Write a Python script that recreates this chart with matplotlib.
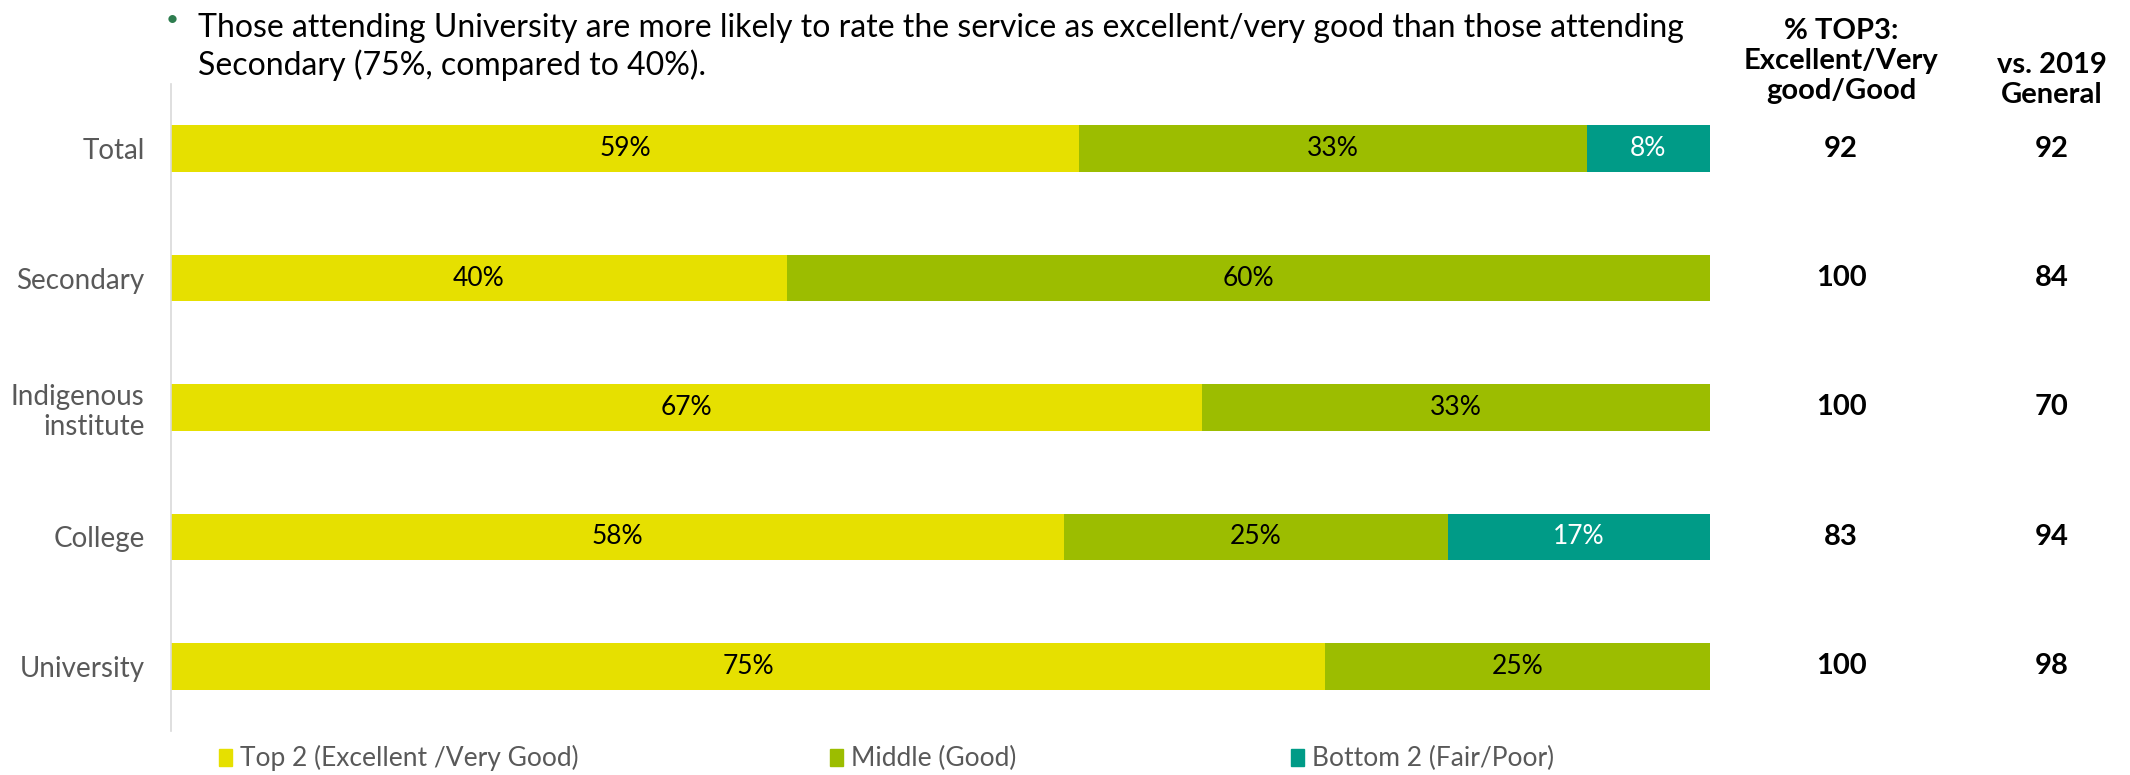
import numpy as np
import matplotlib
matplotlib.use('Agg')
import matplotlib.pyplot as plt
from matplotlib.patches import Rectangle

plt.rcParams['font.family'] = ['Lato', 'DejaVu Sans']

# 各学校类型的评分分布（%）
categories = ['Total', 'Secondary', 'Indigenous\ninstitute', 'College', 'University']
top2 = [59, 40, 67, 58, 75]
middle = [33, 60, 33, 25, 25]
bottom2 = [8, 0, 0, 17, 0]
top3_scores = [92, 100, 100, 83, 100]
general_2019 = [92, 84, 70, 94, 98]

series_names = ['Top 2 (Excellent /Very Good)', 'Middle (Good)', 'Bottom 2 (Fair/Poor)']
colors = ['#E6E000', '#9CBD00', '#009B87']
label_colors = ['black', 'black', 'white']

fig = plt.figure(figsize=(21.3, 7.75), dpi=100)
ax = fig.add_axes([0.0803, 0.0568, 0.7225, 0.8348])

y = np.arange(len(categories))
left = np.zeros(len(categories))
for vals, col, tcol in zip([top2, middle, bottom2], colors, label_colors):
    vals = np.array(vals, dtype=float)
    ax.barh(y, vals, left=left, height=0.36, color=col, edgecolor='none')
    for yi, l, v in zip(y, left, vals):
        if v > 0:
            ax.text(l + v / 2, yi, f'{int(v)}%', ha='center', va='center',
                    fontsize=19, color=tcol)
    left += vals

ax.set_xlim(0, 100)
ax.set_ylim(4.5, -0.5)
ax.set_yticks(y)
ax.set_yticklabels(categories, fontsize=20, color='#595959', linespacing=1.2)
ax.tick_params(axis='y', length=0, pad=19)
ax.set_xticks([])
for s in ['top', 'right', 'bottom']:
    ax.spines[s].set_visible(False)
ax.spines['left'].set_color('#D9D9D9')
ax.spines['left'].set_linewidth(1.2)

# 右侧两列数值
col1_x, col2_x = 1841 / 2130, 2052 / 2130
for yi, a, b in zip(y, top3_scores, general_2019):
    yfig = fig.transFigure.inverted().transform(ax.transData.transform((0, yi)))[1]
    fig.text(col1_x, yfig, str(a), ha='center', va='center', fontsize=21, fontweight='bold')
    fig.text(col2_x, yfig, str(b), ha='center', va='center', fontsize=21, fontweight='bold')

fig.text(col1_x, 1 - 61 / 775, '% TOP3:\nExcellent/Very\ngood/Good', ha='center', va='center',
         fontsize=21, fontweight='bold', linespacing=1.2)
fig.text(col2_x, 1 - 80 / 775, 'vs. 2019\nGeneral', ha='center', va='center',
         fontsize=21, fontweight='bold', linespacing=1.2)

# 标题说明
fig.text(166 / 2130, 1 - 20 / 775, '•', ha='left', va='center', fontsize=16, color='#2E7D4F')
fig.text(198 / 2130, 1 - 47 / 775,
         'Those attending University are more likely to rate the service as excellent/very good than those attending\n'
         'Secondary (75%, compared to 40%).',
         ha='left', va='center', fontsize=23, linespacing=1.22)

# 图例
legend_x = [219, 830, 1291]
for lx, col, name in zip(legend_x, colors, series_names):
    fig.patches.append(Rectangle((lx / 2130, 1 - 766 / 775), 13 / 2130, 17 / 775,
                                 transform=fig.transFigure, color=col))
    fig.text((lx + 21) / 2130, 1 - 758 / 775, name, ha='left', va='center',
             fontsize=19, color='#595959')

fig.savefig('out.png', dpi=100)
